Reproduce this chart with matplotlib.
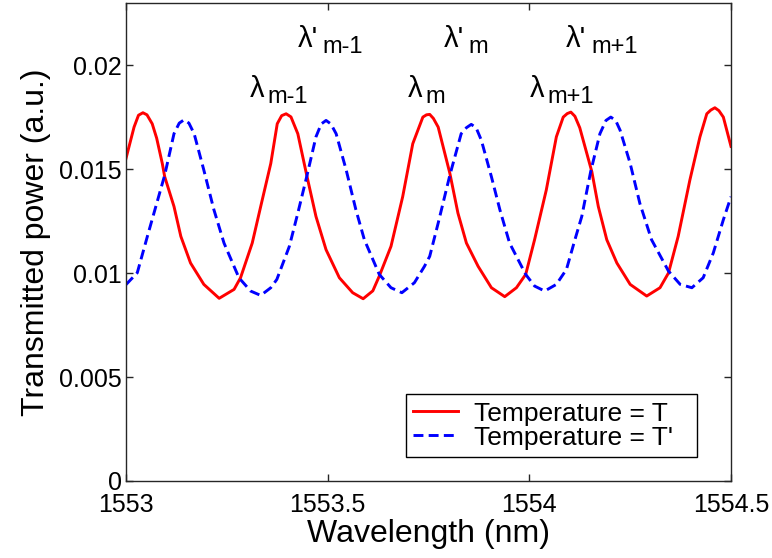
import matplotlib
matplotlib.use("Agg")
import matplotlib.pyplot as plt
from matplotlib.ticker import FixedLocator, FuncFormatter

plt.rcParams['font.family'] = ['Liberation Sans', 'DejaVu Sans']

# Transmission spectrum at temperature T
wl_T = [1553.000, 1553.020, 1553.031, 1553.042, 1553.052, 1553.065, 1553.076,
        1553.090, 1553.096, 1553.119, 1553.136, 1553.160, 1553.193, 1553.231,
        1553.268, 1553.284, 1553.313, 1553.334, 1553.359, 1553.375, 1553.386,
        1553.397, 1553.409, 1553.426, 1553.448, 1553.471, 1553.496, 1553.529,
        1553.562, 1553.588, 1553.612, 1553.628, 1553.657, 1553.686, 1553.711,
        1553.736, 1553.745, 1553.753, 1553.762, 1553.774, 1553.803, 1553.823,
        1553.844, 1553.873, 1553.906, 1553.939, 1553.968, 1553.991, 1554.013,
        1554.042, 1554.067, 1554.084, 1554.094, 1554.103, 1554.113, 1554.125,
        1554.155, 1554.171, 1554.192, 1554.217, 1554.250, 1554.291, 1554.324,
        1554.345, 1554.369, 1554.398, 1554.423, 1554.440, 1554.450, 1554.460,
        1554.470, 1554.481, 1554.500]
pw_T = [0.01552, 0.01703, 0.01760, 0.01772, 0.01762, 0.01719, 0.01650,
        0.01528, 0.01464, 0.01321, 0.01177, 0.01049, 0.00946, 0.00879,
        0.00922, 0.00978, 0.01145, 0.01321, 0.01528, 0.01719, 0.01758,
        0.01767, 0.01752, 0.01671, 0.01472, 0.01273, 0.01113, 0.00978,
        0.00906, 0.00877, 0.00915, 0.00986, 0.01129, 0.01368, 0.01623,
        0.01751, 0.01762, 0.01764, 0.01745, 0.01703, 0.01480, 0.01289,
        0.01145, 0.01033, 0.00930, 0.00887, 0.00930, 0.00994, 0.01161,
        0.01400, 0.01656, 0.01751, 0.01768, 0.01775, 0.01755, 0.01700,
        0.01488, 0.01321, 0.01161, 0.01049, 0.00946, 0.00890, 0.00930,
        0.01001, 0.01177, 0.01448, 0.01656, 0.01767, 0.01785, 0.01796,
        0.01782, 0.01751, 0.01610]

# Transmission spectrum at temperature T'
wl_Tp = [1553.000, 1553.028, 1553.053, 1553.074, 1553.096, 1553.119, 1553.132,
         1553.144, 1553.156, 1553.169, 1553.193, 1553.218, 1553.243, 1553.280,
         1553.309, 1553.334, 1553.359, 1553.374, 1553.405, 1553.426, 1553.448,
         1553.471, 1553.484, 1553.496, 1553.508, 1553.521, 1553.546, 1553.570,
         1553.591, 1553.628, 1553.657, 1553.684, 1553.715, 1553.740, 1553.753,
         1553.774, 1553.803, 1553.831, 1553.844, 1553.856, 1553.868, 1553.881,
         1553.906, 1553.927, 1553.951, 1553.991, 1554.013, 1554.038, 1554.067,
         1554.092, 1554.113, 1554.130, 1554.152, 1554.175, 1554.190, 1554.202,
         1554.214, 1554.225, 1554.250, 1554.274, 1554.303, 1554.345, 1554.374,
         1554.403, 1554.431, 1554.456, 1554.481, 1554.500]
pw_Tp = [0.00945, 0.01002, 0.01177, 0.01321, 0.01472, 0.01671, 0.01722,
         0.01738, 0.01722, 0.01671, 0.01496, 0.01305, 0.01145, 0.00978,
         0.00914, 0.00893, 0.00930, 0.00970, 0.01129, 0.01289, 0.01464,
         0.01656, 0.01718, 0.01735, 0.01718, 0.01671, 0.01496, 0.01305,
         0.01161, 0.00994, 0.00930, 0.00906, 0.00954, 0.01033, 0.01081,
         0.01241, 0.01472, 0.01671, 0.01700, 0.01716, 0.01700, 0.01640,
         0.01464, 0.01305, 0.01145, 0.00994, 0.00938, 0.00914, 0.00946,
         0.01018, 0.01161, 0.01273, 0.01488, 0.01671, 0.01735, 0.01751,
         0.01735, 0.01688, 0.01528, 0.01336, 0.01161, 0.01010, 0.00946,
         0.00930, 0.00978, 0.01097, 0.01257, 0.01368]

series_labels = ["Temperature = T", "Temperature = T'"]
x_ticks = [1553, 1553.5, 1554, 1554.5]
y_ticks = [0, 0.005, 0.01, 0.015, 0.02]

# Resonance labels: (main symbol, subscript)
res_T = [("λ", "m-1"), ("λ", "m"), ("λ", "m+1")]
res_Tp = [("λ'", "m-1"), ("λ'", "m"), ("λ'", "m+1")]

fig = plt.figure(figsize=(7.72, 5.58), dpi=100)
ax = fig.add_axes([0.1632, 0.138, 0.7837, 0.8566])

ax.plot(wl_T, pw_T, color='#ff0000', lw=2.1, solid_joinstyle='round',
        label=series_labels[0])
ax.plot(wl_Tp, pw_Tp, color='#0000ff', lw=2.1, dashes=(3.4, 1.8),
        label=series_labels[1])

ax.set_xlim(1553, 1554.5)
ax.set_ylim(0, 0.023)
ax.xaxis.set_major_locator(FixedLocator(x_ticks))
ax.yaxis.set_major_locator(FixedLocator(y_ticks))
ax.xaxis.set_major_formatter(FuncFormatter(lambda v, p: f"{v:g}"))
ax.yaxis.set_major_formatter(FuncFormatter(lambda v, p: f"{v:g}"))
ax.tick_params(direction='in', length=5, width=1, top=True, right=True,
               labelsize=18, colors='#262626', labelcolor='black')
ax.tick_params(axis='x', pad=9)
ax.tick_params(axis='y', pad=3)
for s in ax.spines.values():
    s.set_linewidth(1.0)
    s.set_color('#262626')

ax.set_xlabel("Wavelength (nm)", fontsize=23, labelpad=1)
ax.set_ylabel("Transmitted power (a.u.)", fontsize=23, labelpad=6)

# legend box spanning a fixed width in the lower right corner
leg = ax.legend(loc='lower left', bbox_to_anchor=(0.462, 0.05, 0.482, 0.136),
                mode='expand', borderaxespad=0, fontsize=19, fancybox=False,
                framealpha=1, edgecolor='black', handlelength=1.7,
                handletextpad=0.62, borderpad=0.28, labelspacing=0.0)
leg.get_frame().set_linewidth(1.0)


def resonance_label(x, y, main, sub, sub_dx):
    ax.text(x, y, main, fontsize=21, ha='left', va='baseline')
    ax.annotate(sub, xy=(x, y), xytext=(sub_dx, -6), textcoords='offset pixels',
                fontsize=17, ha='left', va='baseline')


lab_x_T = [1553.307, 1553.699, 1554.000]
lab_x_Tp = [1553.426, 1553.788, 1554.091]
for (m, s), xl in zip(res_T, lab_x_T):
    resonance_label(xl, 0.01847, m, s, 18)
for (m, s), xl in zip(res_Tp, lab_x_Tp):
    resonance_label(xl, 0.02086, m, s, 25)

fig.savefig("out.png", dpi=100)
